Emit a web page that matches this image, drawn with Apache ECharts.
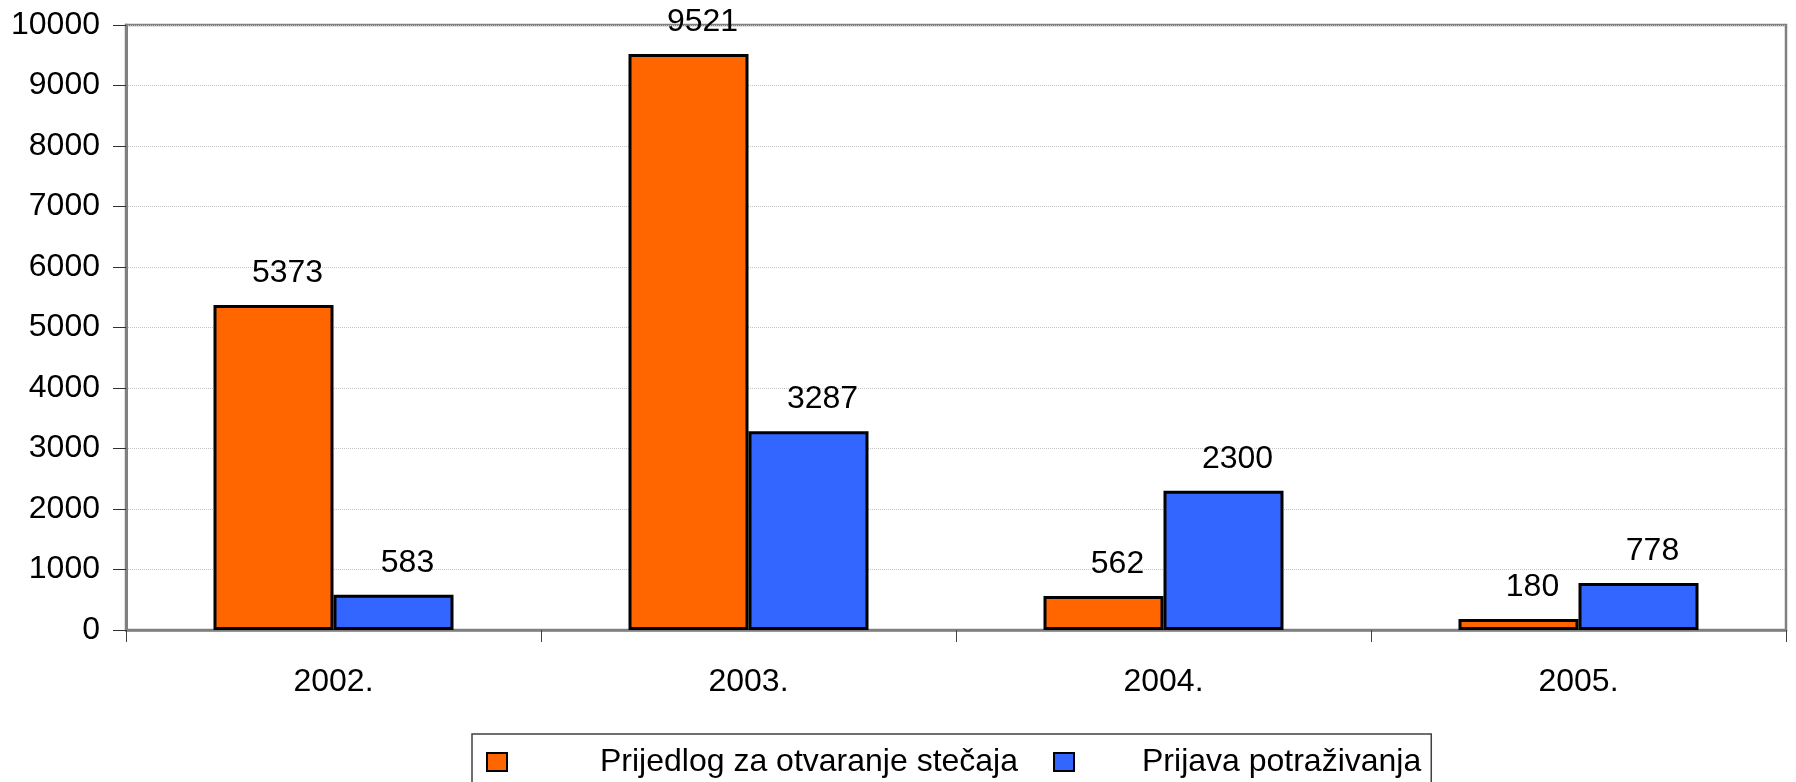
<!DOCTYPE html>
<html>
<head>
<meta charset="utf-8">
<script src="https://cdn.jsdelivr.net/npm/echarts@6/dist/echarts.min.js"></script>
<style>
html,body{margin:0;padding:0;background:#fff;}
#chart{width:1796px;height:782px;}
</style>
</head>
<body>
<div id="chart"></div>
<script>
const categories = ['2002.', '2003.', '2004.', '2005.'];
const seriesNames = ['Prijedlog za otvaranje stečaja', 'Prijava potraživanja'];
const prijedlog = [5373, 9521, 562, 180];
const prijava = [583, 3287, 2300, 778];
const yTicks = [0, 1000, 2000, 3000, 4000, 5000, 6000, 7000, 8000, 9000, 10000];

const FONT = 'Liberation Sans, Arial, sans-serif';
const FS = 32;
const chart = echarts.init(document.getElementById('chart'));

const labelCfg = {
  show: true,
  position: 'top',
  distance: 16,
  offset: [14, 0],
  color: '#000',
  fontSize: FS,
  fontFamily: FONT
};

chart.setOption({
  animation: false,
  backgroundColor: '#fff',
  textStyle: { fontFamily: FONT },
  grid: {
    left: 126, right: 10, top: 25, bottom: 152,
    show: true,
    borderColor: '#808080',
    borderWidth: 2.5,
    containLabel: false
  },
  legend: {
    data: [
      { name: seriesNames[0], textStyle: { padding: [0, 0, 0, 88] } },
      { name: seriesNames[1], textStyle: { padding: [0, 0, 0, 63] } }
    ],
    left: 472,
    top: 734,
    orient: 'horizontal',
    padding: [12, 10, 30, 14],
    itemWidth: 20,
    itemHeight: 18,
    itemGap: 35,
    borderColor: '#404040',
    borderWidth: 1.5,
    borderRadius: 0,
    icon: 'rect',
    itemStyle: { borderColor: '#000', borderWidth: 2 },
    textStyle: { fontSize: FS, color: '#000', fontFamily: FONT }
  },
  xAxis: {
    type: 'category',
    data: categories,
    axisLine: { lineStyle: { color: '#808080', width: 2.5 } },
    axisTick: { show: true, alignWithLabel: false, length: 12, lineStyle: { color: '#404040', width: 1 } },
    axisLabel: { color: '#000', fontSize: FS, fontFamily: FONT, margin: 36 },
    splitLine: { show: false }
  },
  yAxis: {
    type: 'value',
    min: yTicks[0],
    max: yTicks[yTicks.length - 1],
    interval: yTicks[1] - yTicks[0],
    axisLine: { show: true, lineStyle: { color: '#808080', width: 3 } },
    axisTick: { show: true, length: 13, lineStyle: { color: '#303030', width: 1 } },
    axisLabel: { color: '#000', fontSize: FS, fontFamily: FONT, margin: 26, formatter: function (v) { return String(v); } },
    splitLine: { show: true, lineStyle: { color: '#c4c4c4', width: 1, type: 'dotted' } }
  },
  series: [
    {
      name: seriesNames[0],
      type: 'bar',
      data: prijedlog,
      barWidth: 120,
      barGap: '0%',
      itemStyle: { color: '#FF6600', borderColor: '#000', borderWidth: 3 },
      label: labelCfg
    },
    {
      name: seriesNames[1],
      type: 'bar',
      data: prijava,
      barWidth: 120,
      barGap: '0%',
      itemStyle: { color: '#3366FF', borderColor: '#000', borderWidth: 3 },
      label: labelCfg
    }
  ]
});
</script>
</body>
</html>
